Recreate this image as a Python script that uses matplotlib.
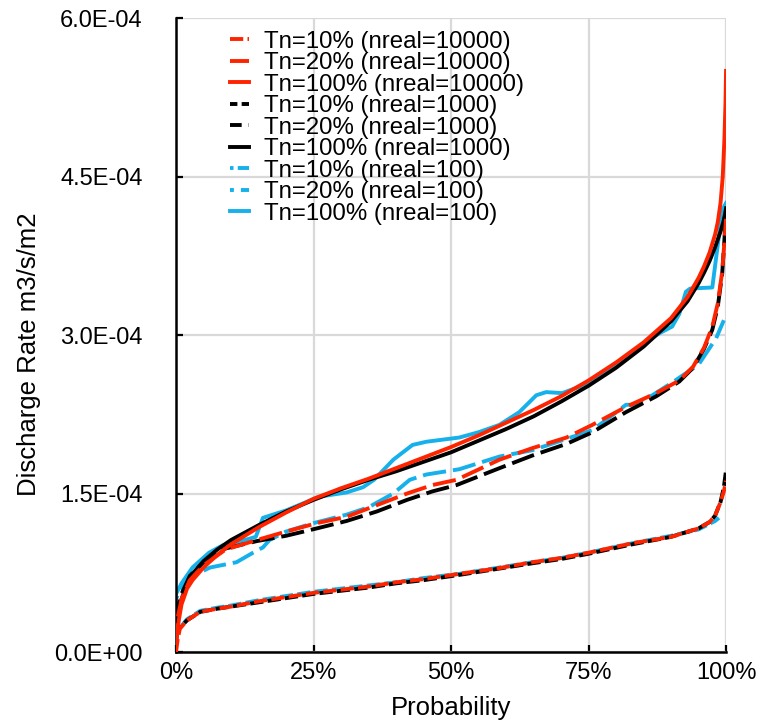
import numpy as np
import matplotlib
matplotlib.use('Agg')
import matplotlib.pyplot as plt
from matplotlib.ticker import FuncFormatter, MultipleLocator

plt.rcParams['font.family'] = ['Liberation Sans', 'DejaVu Sans']

# probability (%) and discharge rate (x 1E-04 m3/s/m2)
# Tn=100% (solid)
x_r100 = [0, 0.5, 1, 2, 3, 5, 7.5, 10, 15, 20, 25, 30, 35, 40, 45, 50, 55, 60, 65, 70, 75, 80, 85, 90, 93, 95, 96, 97, 98, 98.5, 99, 99.4, 99.7, 99.9, 100]
y_r100 = [0.08, 0.3, 0.45, 0.6, 0.68, 0.8, 0.92, 1.02, 1.18, 1.32, 1.45, 1.55, 1.64, 1.74, 1.84, 1.94, 2.05, 2.17, 2.29, 2.42, 2.57, 2.74, 2.93, 3.16, 3.36, 3.54, 3.65, 3.78, 3.95, 4.07, 4.25, 4.5, 4.85, 5.2, 5.5]
x_k100 = [0, 0.5, 1, 2, 3, 5, 7.5, 10, 15, 20, 25, 30, 35, 40, 45, 50, 55, 60, 65, 70, 75, 80, 85, 90, 93, 95, 96, 97, 98, 99, 99.5, 99.8, 100]
y_k100 = [0.1, 0.35, 0.5, 0.65, 0.74, 0.86, 0.97, 1.06, 1.2, 1.33, 1.44, 1.54, 1.63, 1.71, 1.8, 1.89, 2.0, 2.11, 2.23, 2.37, 2.52, 2.69, 2.89, 3.13, 3.32, 3.49, 3.59, 3.7, 3.83, 3.98, 4.07, 4.14, 4.2]
x_b100 = [0, 1, 3, 6, 8.5, 10, 12.5, 14.5, 15.8, 20, 26, 31, 34, 36, 39.5, 43, 45.5, 51.5, 55, 58.8, 62.4, 65.5, 67.3, 70.2, 73.3, 75, 80, 85, 88, 90.2, 91.5, 92.7, 93.5, 97.5, 99.3, 100]
y_b100 = [0.55, 0.65, 0.8, 0.94, 1.01, 1.03, 1.06, 1.09, 1.27, 1.34, 1.47, 1.51, 1.56, 1.63, 1.82, 1.96, 1.99, 2.03, 2.08, 2.15, 2.27, 2.43, 2.46, 2.45, 2.51, 2.56, 2.73, 2.92, 3.02, 3.08, 3.2, 3.41, 3.44, 3.45, 4.18, 4.25]

# Tn=20% (long dash)
x_r20 = [0, 0.2, 1, 2.5, 5, 9, 14.7, 20, 25.6, 31, 36.5, 42, 46.6, 51, 58.8, 64.8, 71, 75.7, 81.8, 87.3, 91.5, 94, 96, 97.5, 98.5, 99.3, 99.7, 100]
y_r20 = [0.05, 0.3, 0.5, 0.68, 0.82, 0.97, 1.06, 1.14, 1.22, 1.28, 1.39, 1.5, 1.58, 1.63, 1.82, 1.93, 2.03, 2.15, 2.32, 2.45, 2.57, 2.7, 2.88, 3.08, 3.3, 3.6, 3.88, 4.1]
x_k20 = [0, 0.2, 1, 2.5, 5, 9, 14.7, 20, 25.6, 31, 36.5, 42, 46.6, 51, 58.8, 64.8, 71, 75.7, 81.8, 87.3, 91.5, 94, 96, 97.5, 98.5, 99.3, 99.7, 100]
y_k20 = [0.1, 0.4, 0.55, 0.72, 0.85, 0.98, 1.05, 1.1, 1.17, 1.24, 1.33, 1.44, 1.52, 1.58, 1.74, 1.86, 1.97, 2.08, 2.27, 2.42, 2.56, 2.69, 2.87, 3.05, 3.27, 3.58, 3.9, 4.2]
x_b20 = [0, 0.7, 3, 6.2, 11, 14, 15.8, 17, 20, 25, 31, 35, 39.5, 42.5, 45.5, 51.5, 58.8, 64.8, 70, 75.7, 79.3, 81.8, 83, 86.6, 90.2, 95, 98.2, 99.6]
y_b20 = [0.5, 0.59, 0.72, 0.8, 0.85, 0.94, 0.99, 1.06, 1.14, 1.22, 1.3, 1.37, 1.5, 1.63, 1.68, 1.73, 1.85, 1.91, 2.0, 2.1, 2.24, 2.34, 2.34, 2.43, 2.55, 2.72, 2.97, 3.14]

# Tn=10% (short dash)
x_r10 = [0, 0.3, 0.7, 2, 4.4, 7.5, 10, 15, 20, 25, 30, 35, 40, 45, 51.5, 58.8, 64.8, 70, 75, 83, 90, 95, 97, 98, 99, 99.6, 100]
y_r10 = [0.0, 0.12, 0.22, 0.3, 0.38, 0.41, 0.43, 0.48, 0.52, 0.56, 0.59, 0.62, 0.66, 0.69, 0.74, 0.795, 0.85, 0.89, 0.94, 1.03, 1.09, 1.17, 1.23, 1.29, 1.42, 1.52, 1.62]
x_k10 = [0, 0.7, 2, 4.4, 7.5, 10, 15, 20, 25, 30, 35, 40, 45, 51.5, 58.8, 64.8, 70, 75, 83, 90, 95, 97, 98, 99, 99.6, 100]
y_k10 = [0.2, 0.23, 0.3, 0.38, 0.41, 0.43, 0.47, 0.51, 0.55, 0.58, 0.61, 0.65, 0.68, 0.73, 0.79, 0.84, 0.88, 0.93, 1.02, 1.09, 1.17, 1.23, 1.29, 1.42, 1.56, 1.72]
x_b10 = [0, 0.7, 2, 4.4, 7.5, 10, 15, 20, 25, 30, 35, 40, 45, 51.5, 58.8, 64.8, 70, 75, 83, 90, 95, 98, 98.7]
y_b10 = [0.2, 0.23, 0.31, 0.39, 0.42, 0.44, 0.49, 0.53, 0.57, 0.6, 0.63, 0.66, 0.7, 0.74, 0.8, 0.85, 0.89, 0.94, 1.03, 1.1, 1.16, 1.24, 1.27]

red = '#ff2400'
blk = '#000000'
blu = '#16b1ea'
short = (0, (3.4, 1.1))
long = (0, (6.0, 1.8))

series = [
    (x_r10, y_r10, red, short, 'Tn=10% (nreal=10000)', 4),
    (x_r20, y_r20, red, long, 'Tn=20% (nreal=10000)', 4),
    (x_r100, y_r100, red, '-', 'Tn=100% (nreal=10000)', 4),
    (x_k10, y_k10, blk, (1.5, (3.4, 1.1)), 'Tn=10% (nreal=1000)', 3),
    (x_k20, y_k20, blk, (3, (6.0, 1.8)), 'Tn=20% (nreal=1000)', 3),
    (x_k100, y_k100, blk, '-', 'Tn=100% (nreal=1000)', 3),
    (x_b10, y_b10, blu, (2.5, (3.4, 1.1)), 'Tn=10% (nreal=100)', 2),
    (x_b20, y_b20, blu, (5, (6.0, 1.8)), 'Tn=20% (nreal=100)', 2),
    (x_b100, y_b100, blu, '-', 'Tn=100% (nreal=100)', 2),
]

fig = plt.figure(figsize=(7.71, 7.24), dpi=100)
ax = fig.add_axes([0.2283, 0.0994, 0.7134, 0.8757])

for xs, ys, c, ls, lab, z in series:
    ax.plot(xs, np.array(ys) * 1e-4, color=c, linestyle=ls, lw=2.8, label=lab, zorder=z)

ax.set_xlim(0, 100)
ax.set_ylim(0, 6e-4)
ax.xaxis.set_major_locator(MultipleLocator(25))
ax.yaxis.set_major_locator(MultipleLocator(1.5e-4))
ax.xaxis.set_major_formatter(FuncFormatter(lambda v, p: '%d%%' % v))
ax.yaxis.set_major_formatter(FuncFormatter(lambda v, p: '%.1E' % v))

ax.grid(True, color='#d9d9d9', lw=1.6, zorder=0)
ax.set_axisbelow(True)
for s in ['top', 'right']:
    ax.spines[s].set_visible(False)
for s in ['left', 'bottom']:
    ax.spines[s].set_linewidth(1.8)
ax.tick_params(axis='both', direction='in', length=5, width=1.6, labelsize=17)
ax.tick_params(axis='y', pad=24)
ax.tick_params(axis='x', pad=7)

ax.set_xlabel('Probability', fontsize=18.5, labelpad=9)
ax.set_ylabel('Discharge Rate m3/s/m2', fontsize=18.5)
ax.yaxis.set_label_coords(-0.245, 0.47)

ax.legend(loc='upper left', bbox_to_anchor=(0.098, 0.98), frameon=False, fontsize=17.3,
          handlelength=0.8, handletextpad=0.6, labelspacing=-0.02, borderpad=0, borderaxespad=0)

fig.savefig('out.png', dpi=100)
